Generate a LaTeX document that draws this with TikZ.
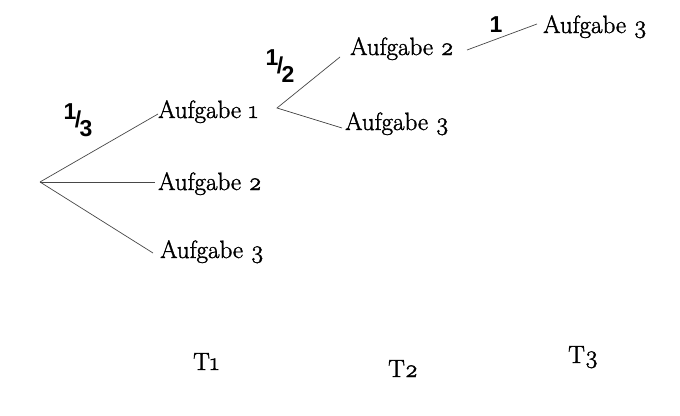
\documentclass[tikz,border=0pt]{standalone}
\usepackage{fontspec}
\setmainfont{Latin Modern Roman}[Numbers=OldStyle,FakeBold=1.5]
\newfontfamily\handfont{Liberation Sans Bold}
\usetikzlibrary{calc}
\newcommand{\hwfrac}[2]{{\handfont\raisebox{8pt}{#1}\kern-1.5pt{/}\kern-1.5pt\raisebox{-9pt}{#2}}}
\tikzset{
  item/.style={anchor=base west, inner sep=0pt, font=\fontsize{25}{29}\selectfont},
  branch/.style={draw=black!72, line width=0.7pt},
  prob/.style={inner sep=0pt, font=\fontsize{23}{23}\selectfont},
}
\begin{document}
\begin{tikzpicture}[x=1pt,y=-1pt]
\fill[white] (0,0) rectangle (680,415);
\useasboundingbox (0,0) rectangle (680,415);
% root and branch points
\coordinate (root) at (40,182);
\coordinate (b1) at (277,108);
% level 1
\node[item] (a1) at (158,118) {Aufgabe 1};
\node[item] (a2) at (158,190) {Aufgabe 2};
\node[item] (a3) at (160,258) {Aufgabe 3};
% level 2
\node[item] (a12) at (350,55) {Aufgabe 2};
\node[item] (a13) at (345,130) {Aufgabe 3};
% level 3
\node[item] (a123) at (543,33) {Aufgabe 3};
% time labels
\node[item] (t1) at (193,370) {T1};
\node[item] (t2) at (388,377) {T2};
\node[item] (t3) at (568,363) {T3};
% connectors
\draw[branch] (root) -- ($(a1.base west)+(0,-4)$);
\draw[branch] (root) -- ($(a2.base west)+(-3,-8)$);
\draw[branch] (root) -- ($(a3.base west)+(-7,-5)$);
\draw[branch] ($(a12.base west)+(-10,2)$) -- (b1) -- ($(a13.base west)+(-3,-2)$);
\draw[branch] ($(a12.base west)+(117,-5)$) -- ($(a123.base west)+(-6,-9)$);
% probabilities
\node[prob] (p1) at (78,120) {\hwfrac{1}{3}};
\node[prob] (p2) at (280,66) {\hwfrac{1}{2}};
\node[prob] (p3) at (496,25) {\handfont 1};
\end{tikzpicture}
\end{document}
